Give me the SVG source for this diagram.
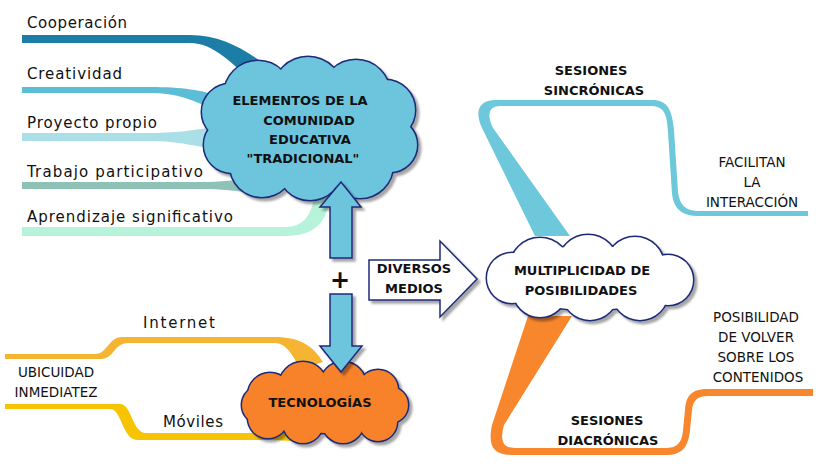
<svg xmlns="http://www.w3.org/2000/svg" xmlns:xlink="http://www.w3.org/1999/xlink" width="816" height="467" viewBox="0 0 816 467">
<style>
.lbl{font-family:"DejaVu Sans","Liberation Sans",sans-serif;font-size:15px;fill:#111}
.cap{font-family:"DejaVu Sans","Liberation Sans",sans-serif;font-size:13.5px;fill:#111;text-anchor:middle}
.bold{font-family:"DejaVu Sans","Liberation Sans",sans-serif;font-size:13px;font-weight:bold;fill:#111;text-anchor:middle}
.outline{fill:#1f2a78;stroke:#1f2a78;stroke-width:3}
.arrow{stroke:#1f2a78;stroke-width:1.5;stroke-linejoin:miter}
</style>
<defs>
<filter id="sh" x="-10%" y="-10%" width="130%" height="130%">
<feDropShadow dx="3" dy="3" stdDeviation="1.2" flood-color="#000" flood-opacity="0.35"/>
</filter>
<g id="cloudA">
<ellipse cx="309" cy="128" rx="92" ry="56"/>
<circle cx="258" cy="95" r="34"/><circle cx="308" cy="92" r="35"/><circle cx="356" cy="94" r="34"/>
<circle cx="385" cy="110" r="30"/><circle cx="390" cy="145" r="27"/><circle cx="360" cy="165" r="33"/>
<circle cx="310" cy="168" r="32"/><circle cx="262" cy="165" r="32"/><circle cx="232" cy="145" r="28"/>
<circle cx="230" cy="112" r="28"/>
</g>
<g id="cloudB">
<ellipse cx="325" cy="405" rx="72" ry="28"/>
<circle cx="270" cy="395" r="22"/><circle cx="303" cy="386" r="24"/><circle cx="343" cy="385" r="23"/>
<circle cx="378" cy="390" r="20"/><circle cx="390" cy="405" r="18"/><circle cx="378" cy="422" r="19"/>
<circle cx="343" cy="422" r="21"/><circle cx="303" cy="423" r="20"/><circle cx="268" cy="418" r="20"/>
<circle cx="261" cy="405" r="19"/>
</g>
<g id="cloudC">
<ellipse cx="590" cy="278" rx="90" ry="32"/>
<circle cx="540" cy="268" r="30"/><circle cx="588" cy="265" r="30"/><circle cx="635" cy="266" r="29"/>
<circle cx="668" cy="280" r="25"/><circle cx="640" cy="292" r="28"/><circle cx="590" cy="292" r="28"/>
<circle cx="540" cy="290" r="27"/><circle cx="512" cy="278" r="25"/>
</g>
</defs>
<rect width="816" height="467" fill="#fff"/>

<g id="connectors">
<path fill="#1c7ea6" d="M22,35 L190,35 C222,35 246,50 270,68 L256,84 C232,64 214,43 190,43 L22,43 Z"/>
<path fill="#5cbdd6" d="M22,87 L150,87 C182,87 202,90 222,97 L216,112 C196,100 176,93 150,93 L22,93 Z"/>
<path fill="#aadfe8" d="M22,133 L150,133 C182,133 196,129 218,127 L218,149 C196,147 180,141 150,141 L22,141 Z"/>
<path fill="#8fc2b6" d="M22,182 L200,182 C222,182 236,180 252,178 L252,193 C236,191 222,189 200,189 L22,189 Z"/>
<path fill="#b7f3da" d="M22,227 L285,227 C304,227 312,216 316,188 L331,188 C329,222 316,236 285,236 L22,236 Z"/>
<path fill="#f5b532" d="M5,354 L95,354 C108,354 108,337 122,337 L275,337 C300,337 313,346 323,362 L300,369 C292,353 285,343 275,343 L128,343 C114,343 114,359 101,359 L5,359 Z"/>
<path fill="#f7c404" d="M5,404 L120,404 C132,404 132,433 146,433 L270,433 C282,433 292,431 302,430 L302,442 C292,441 282,440 270,440 L138,440 C122,440 122,409 110,409 L5,409 Z"/>
<path fill="#6cc8da" d="M535,236 L483,130 C474,112 478,100 496,100 L652,100 C668,100 672,110 674,130 L678,192 C680,206 686,211 700,211 L808,211 L808,216 L700,216 C680,216 674,208 672,194 L668,132 C667,112 663,106 650,106 L500,106 C488,106 487,116 493,128 L570,236 Z"/>
<path fill="#f7862c" d="M528,316 L492,425 C488,445 492,455 512,455 L665,455 C680,455 688,450 690,430 L692,410 C693,400 698,396 708,396 L813,396 L813,389 L708,389 C692,389 686,395 685,410 L683,430 C682,444 676,448 665,448 L515,448 C502,448 500,440 504,425 L572,316 Z"/>
</g>

<g id="labels">
<text class="lbl" x="27" y="28" textLength="100">Cooperación</text>
<text class="lbl" x="27" y="79" textLength="95">Creatividad</text>
<text class="lbl" x="27" y="128" textLength="130">Proyecto propio</text>
<text class="lbl" x="27" y="177" textLength="176">Trabajo participativo</text>
<text class="lbl" x="27" y="222" textLength="206">Aprendizaje significativo</text>
<text class="lbl" x="143" y="328" textLength="72">Internet</text>
<text class="lbl" x="163" y="427" textLength="60">Móviles</text>
<text class="cap" x="56" y="377">UBICUIDAD</text>
<text class="cap" x="56" y="397">INMEDIATEZ</text>
<text class="bold" x="591" y="75">SESIONES</text>
<text class="bold" x="594" y="95">SINCRÓNICAS</text>
<text class="cap" x="752" y="167">FACILITAN</text>
<text class="cap" x="752" y="187">LA</text>
<text class="cap" x="752" y="207">INTERACCIÓN</text>
<text class="cap" x="756" y="322">POSIBILIDAD</text>
<text class="cap" x="756" y="342">DE VOLVER</text>
<text class="cap" x="756" y="362">SOBRE LOS</text>
<text class="cap" x="758" y="382">CONTENIDOS</text>
<text class="bold" x="607" y="425">SESIONES</text>
<text class="bold" x="608" y="445">DIACRÓNICAS</text>
</g>

<g id="node-elementos">
<g filter="url(#sh)">
<use xlink:href="#cloudA" class="outline"/>
<use xlink:href="#cloudA" fill="#6cc5dd"/>
</g>
<text class="bold" x="300" y="105">ELEMENTOS DE LA</text>
<text class="bold" x="309" y="125">COMUNIDAD</text>
<text class="bold" x="310" y="144">EDUCATIVA</text>
<text class="bold" x="303" y="163">"TRADICIONAL"</text>
</g>

<g id="node-tecnologias">
<g filter="url(#sh)">
<use xlink:href="#cloudB" class="outline"/>
<use xlink:href="#cloudB" fill="#f7822a"/>
</g>
<text class="bold" x="320" y="407">TECNOLOGÍAS</text>
</g>

<g id="node-multiplicidad">
<g filter="url(#sh)">
<use xlink:href="#cloudC" class="outline"/>
<use xlink:href="#cloudC" fill="#ffffff"/>
</g>
<text class="bold" x="582" y="275">MULTIPLICIDAD DE</text>
<text class="bold" x="581" y="295">POSIBILIDADES</text>
</g>

<g id="arrows">
<polygon class="arrow" filter="url(#sh)" fill="#6cc5dd" points="341,182 361,207 352,207 352,258 330,258 330,207 320,207"/>
<polygon class="arrow" filter="url(#sh)" fill="#6cc5dd" points="330,294 352,294 352,346 362,346 341,372 320,346 330,346"/>
<text x="340" y="288" font-family="DejaVu Sans, sans-serif" font-size="24" font-weight="bold" text-anchor="middle" fill="#111">+</text>
</g>

<g id="node-diversos">
<polygon class="arrow" filter="url(#sh)" fill="#fff" points="369,260 440,260 440,241 477,279 440,317 440,300 369,300"/>
<text class="bold" x="414" y="273">DIVERSOS</text>
<text class="bold" x="414" y="293">MEDIOS</text>
</g>
</svg>
